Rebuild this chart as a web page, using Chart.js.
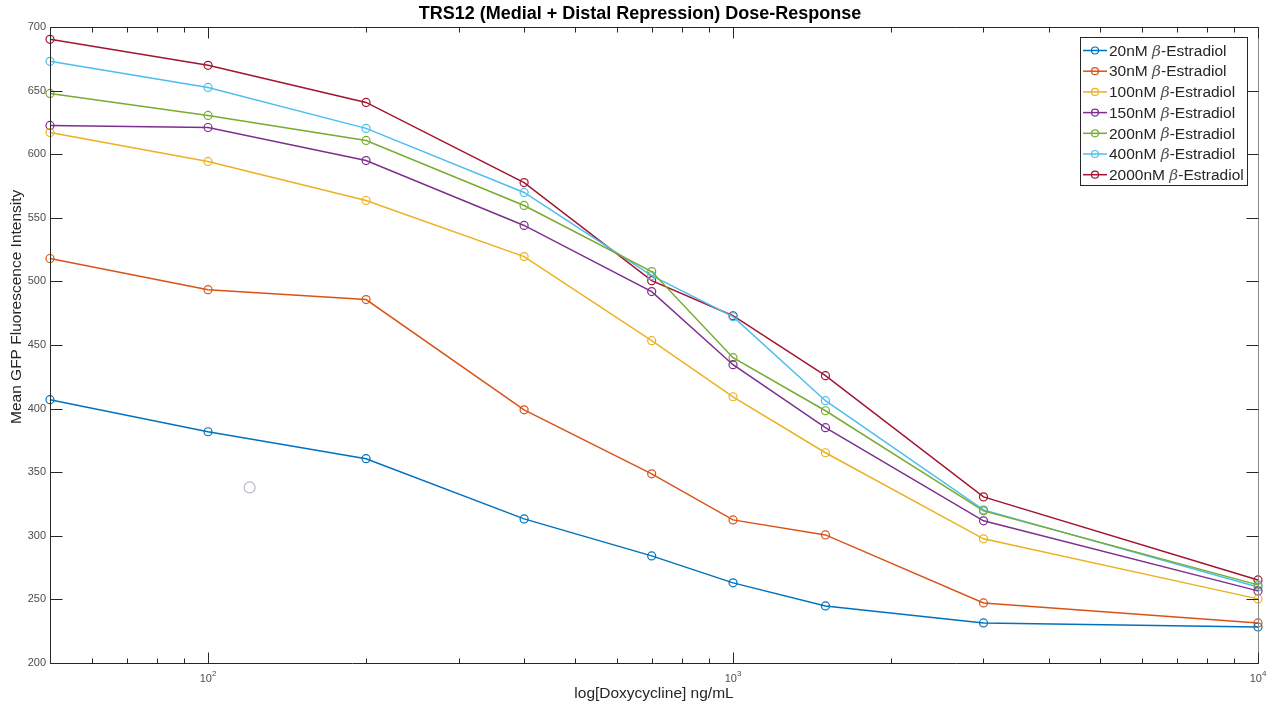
<!DOCTYPE html>
<html>
<head>
<meta charset="utf-8">
<script src="https://cdn.jsdelivr.net/npm/chart.js@4"></script>
<style>
html,body{margin:0;padding:0;background:#fff;}
#wrap{position:relative;width:1278px;height:708px;}
</style>
</head>
<body>
<div id="wrap"><canvas id="c" width="1278" height="708"></canvas></div>
<script>
// ---- data ----
const doxycycline = [50, 100, 200, 400, 700, 1000, 1500, 3000, 10000];
const seriesNames = ['20nM', '30nM', '100nM', '150nM', '200nM', '400nM', '2000nM'];
const e20   = [407, 381.8, 360.6, 313.3, 284.2, 263, 244.9, 231.5, 228.3];
const e30   = [518, 493.5, 485.7, 399, 348.7, 312.5, 300.7, 247.2, 231.5];
const e100  = [617, 594.3, 563.6, 519.5, 453.4, 409.3, 365.3, 297.6, 250.4];
const e150  = [622.6, 621, 595, 544, 492, 434.5, 385, 311.8, 256.7];
const e200  = [647.8, 630.5, 610.8, 559.7, 507.7, 440, 398.3, 319.6, 261.4];
const e400  = [673, 652.5, 620.3, 569.9, 504.6, 472.3, 406.2, 320.4, 259.8];
const e2000 = [690.3, 669.9, 640.7, 577.7, 500.6, 473, 425.9, 330.6, 265.3];
const cursorMark = [{x: 120, y: 338}];
const xMajorTicks = [100, 1000, 10000];
const xTickBase = '10';
const xTickExp = ['2', '3', '4'];
const yTicks = [200, 250, 300, 350, 400, 450, 500, 550, 600, 650, 700];

const colors = ['#0072BD', '#D95319', '#EDB120', '#7E2F8E', '#77AC30', '#4DBEEE', '#A2142F'];
const allSeries = [e20, e30, e100, e150, e200, e400, e2000];

const FONT = '"Liberation Sans", Arial, Helvetica, sans-serif';
const AXC = '#262626';

const datasets = allSeries.map((vals, i) => ({
  label: seriesNames[i] + ' \u03B2-Estradiol',
  data: doxycycline.map((x, j) => ({x: x, y: vals[j]})),
  borderColor: colors[i],
  backgroundColor: 'rgba(0,0,0,0)',
  pointBackgroundColor: 'rgba(0,0,0,0)',
  pointBorderColor: colors[i],
  borderWidth: 1.5,
  pointRadius: 4,
  pointBorderWidth: 1.2,
  tension: 0,
  clip: false
}));
datasets.push({
  label: 'cursor',
  data: cursorMark,
  showLine: false,
  borderColor: '#b8b8c8',
  pointBorderColor: '#b8b8c8',
  pointBackgroundColor: 'rgba(0,0,0,0)',
  pointRadius: 5.5,
  pointBorderWidth: 1.2,
  clip: false
});

const framePlugin = {
  id: 'frame',
  afterDraw(chart) {
    const ctx = chart.ctx;
    const a = chart.chartArea;
    const xs = chart.scales.x, ys = chart.scales.y;
    ctx.save();
    ctx.strokeStyle = AXC;
    ctx.lineWidth = 1;
    const L = Math.round(a.left) + 0.5, R = Math.round(a.right) + 0.5;
    const T = Math.round(a.top) + 0.5, B = Math.round(a.bottom) + 0.5;
    ctx.beginPath();
    ctx.moveTo(L, T); ctx.lineTo(L, B); ctx.lineTo(R, B);
    ctx.moveTo(L, T); ctx.lineTo(R, T);
    ctx.stroke();
    ctx.strokeStyle = '#8a8a8a';
    ctx.beginPath();
    ctx.moveTo(R, T); ctx.lineTo(R, B);
    ctx.stroke();
    ctx.strokeStyle = AXC;
    // x ticks (major + minor), inward, top and bottom
    ctx.beginPath();
    for (let d = 10; d <= 10000; d *= 10) {
      for (let m = 1; m <= 9; m++) {
        const v = d * m;
        if (v < 50 || v > 10000) continue;
        const px = Math.round(xs.getPixelForValue(v)) + 0.5;
        const len = (m === 1) ? 11 : 5;
        ctx.moveTo(px, B); ctx.lineTo(px, B - len);
        ctx.moveTo(px, T); ctx.lineTo(px, T + len);
      }
    }
    // y ticks inward, left and right
    yTicks.forEach(v => {
      const py = Math.round(ys.getPixelForValue(v)) + 0.5;
      ctx.moveTo(L, py); ctx.lineTo(L + 12, py);
      ctx.moveTo(R, py); ctx.lineTo(R - 12, py);
    });
    ctx.stroke();

    // x tick labels with superscripts
    ctx.fillStyle = '#4d4d4d';
    ctx.textBaseline = 'middle';
    xMajorTicks.forEach((v, i) => {
      const px = xs.getPixelForValue(v);
      ctx.font = '11px ' + FONT;
      const wb = ctx.measureText(xTickBase).width;
      ctx.font = '8px ' + FONT;
      const we = ctx.measureText(xTickExp[i]).width;
      const x0 = px - (wb + we) / 2;
      ctx.textAlign = 'left';
      ctx.font = '11px ' + FONT;
      ctx.fillText(xTickBase, x0, 679);
      ctx.font = '8px ' + FONT;
      ctx.fillText(xTickExp[i], x0 + wb, 674);
    });

    // title
    ctx.fillStyle = '#000';
    ctx.font = 'bold 18px ' + FONT;
    ctx.textAlign = 'center';
    ctx.textBaseline = 'middle';
    ctx.fillText('TRS12 (Medial + Distal Repression) Dose-Response', 640, 14);

    // axis titles
    ctx.fillStyle = AXC;
    ctx.font = '15.5px ' + FONT;
    ctx.textAlign = 'center';
    ctx.fillText('log[Doxycycline] ng/mL', (a.left + a.right) / 2, 694);
    ctx.save();
    ctx.translate(17, 424);
    ctx.rotate(-Math.PI / 2);
    ctx.textAlign = 'left';
    ctx.fillText('Mean GFP Fluorescence Intensity', 0, 0);
    ctx.restore();

    // legend
    const lx = 1080, ly = 37, lw = 167, lh = 148;
    ctx.fillStyle = '#fff';
    ctx.fillRect(lx, ly, lw, lh);
    ctx.strokeStyle = AXC;
    ctx.lineWidth = 1;
    ctx.strokeRect(lx + 0.5, ly + 0.5, lw, lh);
    ctx.textAlign = 'left';
    seriesNames.forEach((n, i) => {
      const cy = ly + 13.5 + i * 20.7;
      ctx.strokeStyle = colors[i];
      ctx.lineWidth = 1.5;
      ctx.beginPath();
      ctx.moveTo(lx + 3, cy); ctx.lineTo(lx + 27, cy);
      ctx.stroke();
      ctx.lineWidth = 1.2;
      ctx.beginPath();
      ctx.arc(lx + 15, cy, 3.5, 0, Math.PI * 2);
      ctx.stroke();
      let tx = lx + 29;
      ctx.fillStyle = AXC;
      ctx.font = '15.5px ' + FONT;
      const p1 = n + ' ';
      ctx.fillText(p1, tx, cy + 1);
      tx += ctx.measureText(p1).width;
      ctx.font = 'italic 15.5px "DejaVu Serif", serif';
      ctx.fillStyle = '#555';
      ctx.fillText('\u03B2', tx, cy + 1);
      tx += ctx.measureText('\u03B2').width;
      ctx.fillStyle = AXC;
      ctx.font = '15.5px ' + FONT;
      ctx.fillText('-Estradiol', tx, cy + 1);
    });
    ctx.restore();
  }
};

new Chart(document.getElementById('c'), {
  type: 'line',
  data: { datasets: datasets },
  options: {
    responsive: false,
    animation: false,
    devicePixelRatio: 1,
    layout: { padding: { top: 27, right: 20, left: 0, bottom: 0 } },
    plugins: { legend: { display: false }, title: { display: false }, tooltip: { enabled: false } },
    scales: {
      x: {
        type: 'logarithmic',
        min: 50, max: 10000,
        afterFit(s) { s.height = 45; },
        afterBuildTicks(s) { s.ticks = xMajorTicks.map(v => ({value: v})); },
        grid: { display: false, drawTicks: false },
        border: { display: false },
        ticks: { display: false }
      },
      y: {
        type: 'linear',
        min: 200, max: 700,
        afterFit(s) { s.width = 50; },
        afterBuildTicks(s) { s.ticks = yTicks.map(v => ({value: v})); },
        grid: { display: false, drawTicks: false },
        border: { display: false },
        ticks: { padding: 4, color: '#4d4d4d', font: { family: FONT, size: 11 } }
      }
    }
  },
  plugins: [framePlugin]
});
</script>
</body>
</html>
